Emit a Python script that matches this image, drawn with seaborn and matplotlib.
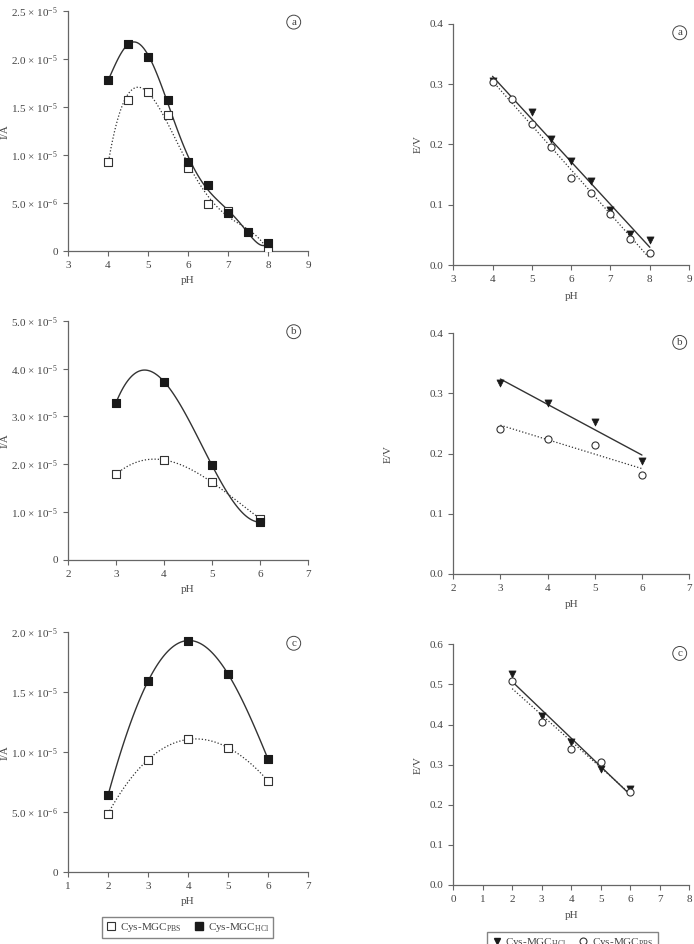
import numpy as np
import matplotlib
matplotlib.use("Agg")
import matplotlib.pyplot as plt
import seaborn as sns
from matplotlib.ticker import FuncFormatter, MultipleLocator
from matplotlib.lines import Line2D

# ---- data ----
# left column: current vs pH
ph_a_hcl = [4, 4.5, 5, 5.5, 6, 6.5, 7, 7.5, 8]
i_a_hcl = [1.78e-5, 2.16e-5, 2.025e-5, 1.58e-5, 0.926e-5, 0.693e-5, 0.395e-5, 0.198e-5, 0.083e-5]
ph_a_pbs = [4, 4.5, 5, 5.5, 6, 6.5, 7, 8]
i_a_pbs = [0.926e-5, 1.58e-5, 1.66e-5, 1.415e-5, 0.867e-5, 0.496e-5, 0.423e-5, 0.0]

ph_b = [3, 4, 5, 6]
i_b_hcl = [3.29e-5, 3.73e-5, 1.975e-5, 0.79e-5]
i_b_pbs = [1.79e-5, 2.09e-5, 1.62e-5, 0.86e-5]

ph_c = [2, 3, 4, 5, 6]
i_c_hcl = [0.642e-5, 1.594e-5, 1.933e-5, 1.653e-5, 0.942e-5]
i_c_pbs = [0.489e-5, 0.939e-5, 1.108e-5, 1.039e-5, 0.761e-5]

# right column: potential vs pH
ph_ra_hcl = [4, 5, 5.5, 6, 6.5, 7, 7.5, 8]
e_ra_hcl = [0.305, 0.253, 0.209, 0.173, 0.139, 0.091, 0.052, 0.042]
ph_ra_pbs = [4, 4.5, 5, 5.5, 6, 6.5, 7, 7.5, 8]
e_ra_pbs = [0.303, 0.276, 0.234, 0.196, 0.145, 0.119, 0.085, 0.043, 0.021]

ph_rb = [3, 4, 5, 6]
e_rb_hcl = [0.318, 0.284, 0.253, 0.188]
e_rb_pbs = [0.241, 0.225, 0.214, 0.1645]

ph_rc = [2, 3, 4, 5, 6]
e_rc_hcl = [0.525, 0.421, 0.357, 0.288, 0.239]
e_rc_pbs = [0.509, 0.406, 0.339, 0.307, 0.231]

LBL_PBS = r"Cys-MGC$_{\mathrm{PBS}}$"
LBL_HCL = r"Cys-MGC$_{\mathrm{HCl}}$"

# ---- style ----
sns.set_style("ticks")
plt.rcParams['font.family'] = ['Liberation Serif', 'DejaVu Serif']
plt.rcParams['mathtext.fontset'] = 'custom'
plt.rcParams['mathtext.rm'] = 'Liberation Serif'
plt.rcParams['mathtext.it'] = 'Liberation Serif:italic'
TXT = '#444444'
AX = '#666666'
LN = '#333333'
plt.rcParams.update({
    'text.color': TXT, 'axes.labelcolor': TXT,
    'xtick.color': AX, 'ytick.color': AX,
    'xtick.labelcolor': TXT, 'ytick.labelcolor': TXT,
    'axes.edgecolor': AX, 'axes.linewidth': 0.9,
    'xtick.direction': 'out', 'ytick.direction': 'out',
    'xtick.major.size': 3.5, 'ytick.major.size': 3.5,
    'xtick.labelsize': 8, 'ytick.labelsize': 8,
    'axes.labelsize': 8,
})
DOT = (0, (1, 1.6))


def sci_fmt(v, pos):
    if v <= 1e-12:
        return "0" if abs(v) <= 1e-12 else ""
    e = int(np.floor(np.log10(v) + 1e-9))
    m = v / 10 ** e
    return "%.1f \u00d7 10$^{\u2212%d}$" % (m, -e)


def circle_tag(ax, s, x, y):
    ax.text(x, y, s, transform=ax.transAxes, ha='center', va='center', fontsize=8,
            bbox=dict(boxstyle='circle,pad=0.22', fc='white', ec=TXT, lw=0.7))


def left_panel(ax, x_hcl, y_hcl, x_pbs, y_pbs, ord_hcl, ord_pbs, xlim, ymax, ystep, tag):
    sns.regplot(x=x_pbs, y=y_pbs, order=ord_pbs, ci=None, scatter=False, ax=ax,
                line_kws=dict(color=LN, lw=0.9, ls=DOT))
    sns.regplot(x=x_hcl, y=y_hcl, order=ord_hcl, ci=None, scatter=False, ax=ax,
                line_kws=dict(color=LN, lw=1.0, ls='-'))
    sns.scatterplot(x=x_pbs, y=y_pbs, marker='s', s=38, color='white', edgecolor=LN,
                    linewidth=0.8, ax=ax, zorder=3)
    sns.scatterplot(x=x_hcl, y=y_hcl, marker='s', s=38, color='#1a1a1a', edgecolor='#1a1a1a',
                    linewidth=0.8, ax=ax, zorder=4)
    ax.set_xlim(*xlim)
    ax.set_ylim(0, ymax)
    ax.xaxis.set_major_locator(MultipleLocator(1))
    ax.yaxis.set_major_locator(MultipleLocator(ystep))
    ax.yaxis.set_major_formatter(FuncFormatter(sci_fmt))
    ax.set_xlabel("pH")
    ax.set_ylabel("I/A")
    ax.xaxis.set_label_coords(0.5, -0.105)
    ax.yaxis.set_label_coords(-0.245, 0.5)
    sns.despine(ax=ax)
    circle_tag(ax, tag, 0.94, 0.955)


def right_panel(ax, x_hcl, y_hcl, x_pbs, y_pbs, xlim, ymax, tag, ylab_x):
    sns.regplot(x=x_pbs, y=y_pbs, ci=None, scatter=False, ax=ax,
                line_kws=dict(color=LN, lw=0.9, ls=DOT))
    sns.regplot(x=x_hcl, y=y_hcl, ci=None, scatter=False, ax=ax,
                line_kws=dict(color=LN, lw=1.0, ls='-'))
    sns.scatterplot(x=x_hcl, y=y_hcl, marker='v', s=26, color='#1a1a1a', edgecolor='#1a1a1a',
                    linewidth=0.5, ax=ax, zorder=3)
    sns.scatterplot(x=x_pbs, y=y_pbs, marker='o', s=26, color='white', edgecolor=LN,
                    linewidth=0.8, ax=ax, zorder=4)
    ax.set_xlim(*xlim)
    ax.set_ylim(0, ymax)
    ax.xaxis.set_major_locator(MultipleLocator(1))
    ax.yaxis.set_major_locator(MultipleLocator(0.1))
    ax.yaxis.set_major_formatter(FuncFormatter(lambda v, p: "%.1f" % abs(v)))
    ax.set_xlabel("pH")
    ax.set_ylabel("E/V")
    ax.xaxis.set_label_coords(0.5, -0.11)
    ax.yaxis.set_label_coords(ylab_x, 0.5)
    sns.despine(ax=ax)
    circle_tag(ax, tag, 0.96, 0.962)


fig = plt.figure(figsize=(6.94, 9.44), dpi=100)
la = fig.add_axes([0.098, 0.734, 0.346, 0.254])
lb = fig.add_axes([0.098, 0.407, 0.346, 0.253])
lc = fig.add_axes([0.098, 0.076, 0.346, 0.254])
ra = fig.add_axes([0.653, 0.719, 0.340, 0.256])
rb = fig.add_axes([0.653, 0.392, 0.340, 0.255])
rc = fig.add_axes([0.653, 0.0625, 0.340, 0.255])

left_panel(la, ph_a_hcl, i_a_hcl, ph_a_pbs, i_a_pbs, 6, 4, (3, 9), 2.5e-5, 0.5e-5, 'a')
left_panel(lb, ph_b, i_b_hcl, ph_b, i_b_pbs, 3, 3, (2, 7), 5.0e-5, 1.0e-5, 'b')
left_panel(lc, ph_c, i_c_hcl, ph_c, i_c_pbs, 4, 4, (1, 7), 2.0e-5, 0.5e-5, 'c')

right_panel(ra, ph_ra_hcl, e_ra_hcl, ph_ra_pbs, e_ra_pbs, (3, 9), 0.4, 'a', -0.13)
right_panel(rb, ph_rb, e_rb_hcl, ph_rb, e_rb_pbs, (2, 7), 0.4, 'b', -0.255)
right_panel(rc, ph_rc, e_rc_hcl, ph_rc, e_rc_pbs, (0, 8), 0.6, 'c', -0.13)

# legends under the bottom panels
sq_open = Line2D([], [], ls='none', marker='s', ms=6, mfc='white', mec=LN, mew=0.8)
sq_fill = Line2D([], [], ls='none', marker='s', ms=6, mfc='#1a1a1a', mec='#1a1a1a')
fig.legend([sq_open, sq_fill], [LBL_PBS, LBL_HCL], loc='upper center',
           bbox_to_anchor=(0.270, 0.034), ncol=2, fontsize=8, frameon=True,
           fancybox=False, edgecolor=AX, handletextpad=0.3, columnspacing=1.0,
           handlelength=1.0, borderpad=0.35)
tri_fill = Line2D([], [], ls='none', marker='v', ms=5, mfc='#1a1a1a', mec='#1a1a1a')
ci_open = Line2D([], [], ls='none', marker='o', ms=5, mfc='white', mec=LN, mew=0.8)
fig.legend([tri_fill, ci_open], [LBL_HCL, LBL_PBS], loc='upper center',
           bbox_to_anchor=(0.825, 0.019), ncol=2, fontsize=8, frameon=True,
           fancybox=False, edgecolor=AX, handletextpad=0.3, columnspacing=1.0,
           handlelength=1.0, borderpad=0.35)

fig.savefig("out.png", dpi=100)
